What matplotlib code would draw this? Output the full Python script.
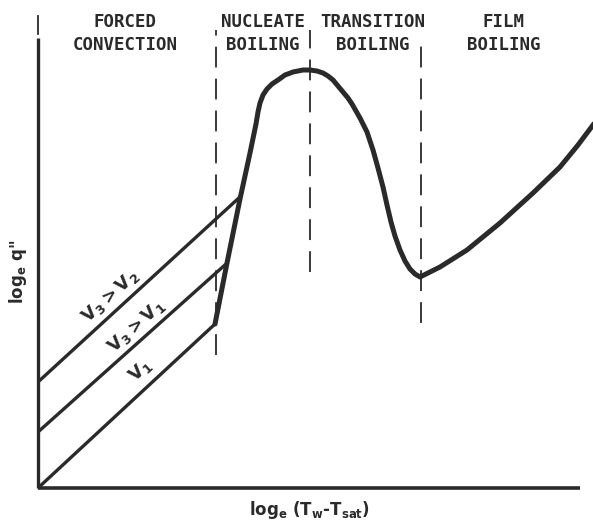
import numpy as np
import matplotlib
matplotlib.use('Agg')
import matplotlib.pyplot as plt

# boiling curve (arbitrary units, origin at the axes corner)
curve_x = [177, 189, 202, 212, 218, 220, 222, 225, 229, 234, 240, 247, 255, 265, 272,
           279, 285, 290, 295, 300, 305, 310, 314, 322, 329, 335, 340, 345, 349, 353,
           357, 362, 367, 372, 377, 382, 402, 429, 462, 495, 522, 540, 555, 562]
curve_y = [164, 225, 289, 335, 364, 376, 385, 393, 399, 404, 408, 413, 416, 418, 418,
           417, 415, 412, 408, 402, 396, 390, 384, 370, 356, 338, 320, 301, 283, 266,
           252, 238, 227, 219, 214, 211, 221, 238, 265, 295, 321, 343, 363, 372]

# forced convection lines for the three velocities
conv_x0 = [0, 0, 0]
conv_y0 = [0, 56, 106]
conv_x1 = [177, 188, 203]
conv_y1 = [164, 224, 292]
conv_labels = [r'$V_1$', r'$V_3 > V_1$', r'$V_3 > V_2$']
conv_label_x = [102, 98, 72]
conv_label_y = [117, 162, 192]

# regime boundaries
bound_x = [178, 272, 383]
bound_ylo = [133, 216, 165]
bound_yhi = [458, 458, 451]

regimes = [('FORCED', 'CONVECTION'), ('NUCLEATE', 'BOILING'),
           ('TRANSITION', 'BOILING'), ('FILM', 'BOILING')]
regime_x = [87, 225, 335, 466]

plt.rcParams['mathtext.fontset'] = 'custom'
plt.rcParams['mathtext.rm'] = 'DejaVu Sans:bold'
plt.rcParams['mathtext.it'] = 'DejaVu Sans:bold'
plt.rcParams['mathtext.default'] = 'rm'
plt.rcParams['lines.scale_dashes'] = False

fig = plt.figure(figsize=(5.93, 5.24), dpi=100)
ax = fig.add_axes([38/593, 36/524, 555/593, 488/524])
ax.set_xlim(0, 555)
ax.set_ylim(0, 488)
ax.axis('off')

ink = '#2a2a2a'

# axes drawn by hand
ax.plot([0, 542], [0, 0], color=ink, lw=2.6, solid_capstyle='butt', clip_on=False)
ax.plot([0, 0], [0, 450], color=ink, lw=2.4, solid_capstyle='butt', clip_on=False)
ax.plot([0, 0], [454, 472], color=ink, lw=1.3, clip_on=False)

for x, lo, hi in zip(bound_x, bound_ylo, bound_yhi):
    ax.plot([x, x], [lo, hi], color=ink, lw=1.3, dashes=(15, 8))

for x0, y0, x1, y1 in zip(conv_x0, conv_y0, conv_x1, conv_y1):
    ax.plot([x0, x1], [y0, y1], color=ink, lw=2.4, solid_capstyle='round')

ax.plot(curve_x, curve_y, color=ink, lw=3.6, solid_joinstyle='round',
        solid_capstyle='round')

for lab, x, y in zip(conv_labels, conv_label_x, conv_label_y):
    ax.text(x, y, lab, rotation=42, ha='center', va='center', fontsize=13,
            color=ink, rotation_mode='anchor')

for (top, bot), x in zip(regimes, regime_x):
    ax.text(x, 466, top, ha='center', va='center', fontsize=12.5,
            family='DejaVu Sans Mono', weight='bold', color=ink)
    ax.text(x, 443, bot, ha='center', va='center', fontsize=12.5,
            family='DejaVu Sans Mono', weight='bold', color=ink)

fig.text(18/593, 1 - 272/524, r'log$_e$ q"', rotation=90, ha='center', va='center',
         fontsize=12, weight='bold', color=ink)
fig.text(310/593, 1 - 510/524, r'log$_e$ (T$_w$-T$_{sat}$)', ha='center', va='center',
         fontsize=12, weight='bold', color=ink)

plt.savefig('out.png', dpi=100)
